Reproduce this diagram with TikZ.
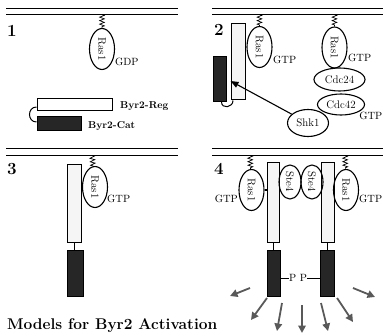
\documentclass[tikz,border=0pt]{standalone}
\usetikzlibrary{shapes.geometric,arrows.meta,decorations.pathmorphing}

\tikzset{
    prot/.style={ellipse, draw, line width=1.1pt, inner sep=0pt, font=\fontsize{11}{12}\selectfont},
    ras/.style={prot, rotate=-90, minimum width=41pt, minimum height=25pt},
    ste/.style={prot, rotate=-90, minimum width=34pt, minimum height=22pt},
    regbox/.style={draw, line width=1pt, fill=gray!8, inner sep=0pt},
    catbox/.style={draw, line width=1pt, fill=black!85, inner sep=0pt},
    lab/.style={font=\fontsize{10.5}{12}\selectfont, inner sep=0pt},
    memb/.style={line width=1.2pt},
    tether/.style={line width=0.7pt, decorate, decoration={zigzag, segment length=3.5pt, amplitude=2.3pt}},
    sig/.style={line width=1.8pt, black!65, -{Triangle[length=7.5pt,width=7.5pt]}},
    num/.style={font=\fontsize{17}{18}\selectfont\bfseries, anchor=north west, inner sep=0pt}
}

\begin{document}
\begin{tikzpicture}[x=1pt, y=-1pt]
    \useasboundingbox (0,0) rectangle (383,334);

    % Membranes
    \foreach \y in {8.5,14.5} {
        \draw[memb] (6,\y) -- (178,\y);
        \draw[memb] (212,\y) -- (383,\y);
    }
    \foreach \y in {148.5,155.5} {
        \draw[memb] (6,\y) -- (178,\y);
        \draw[memb] (212,\y) -- (383,\y);
    }

    % Panel 1
    \node[num] (n1) at (7,25) {1};
    \node[ras] (ras1) at (102,49) {Ras1};
    \coordinate (m1) at (102,14.5);
    \draw[tether] (m1) -- (ras1);
    \node[lab, anchor=west] (gdp1) at (115,62) {GDP};
    \node[regbox, fill=white, minimum width=75pt, minimum height=12pt] (rega) at (74.5,105) {};
    \node[catbox, minimum width=44pt, minimum height=14pt] (cata) at (59,124) {};
    \draw[line width=1pt] ([yshift=-2pt]rega.west) to[out=180, in=180, looseness=1.6] ([yshift=2pt]cata.west);
    \node[lab, font=\fontsize{10}{12}\selectfont\bfseries, anchor=west] (lreg) at (120,106) {Byr2-Reg};
    \node[lab, font=\fontsize{10}{12}\selectfont\bfseries, anchor=west] (lcat) at (88,126) {Byr2-Cat};

    % Panel 2
    \node[num] (n2) at (214,24) {2};
    \node[regbox, minimum width=14pt, minimum height=76pt] (regb) at (238,62) {};
    \node[catbox, minimum width=13pt, minimum height=45pt] (catb) at (219.5,79) {};
    \draw[line width=1pt] ([xshift=2pt]catb.south) to[out=-90, in=-90, looseness=1.6] ([xshift=-5pt]regb.south);
    \node[ras] (ras2a) at (259.5,47) {Ras1};
    \coordinate (m2a) at (259.5,14.5);
    \draw[tether] (m2a) -- (ras2a);
    \node[lab, anchor=west] (gtp2a) at (273,60) {GTP};
    \node[ras] (ras2b) at (334.5,47.5) {Ras1};
    \coordinate (m2b) at (334.5,14.5);
    \draw[tether] (m2b) -- (ras2b);
    \node[lab, anchor=west] (gtp2b) at (348,58) {GTP};
    \node[prot, minimum width=51pt, minimum height=23pt] (cdc24) at (339.5,79.5) {Cdc24};
    \node[prot, minimum width=47pt, minimum height=21pt] (cdc42) at (341,104.5) {Cdc42};
    \node[lab, anchor=east] (gtp2c) at (382.5,116) {GTP};
    \node[prot, minimum width=41pt, minimum height=27pt, fill=white] (shk1) at (308,123) {Shk1};
    \draw[line width=1.1pt, -{Triangle[length=8pt,width=6pt]}] (shk1) -- ([yshift=-19pt]regb.west);

    % Panel 3
    \node[num] (n3) at (7,163) {3};
    \node[regbox, minimum width=14pt, minimum height=77pt] (regc) at (74,203.5) {};
    \node[catbox, minimum width=16pt, minimum height=46pt] (catc) at (75,273) {};
    \draw[line width=1pt] (regc.south) -- (regc.south |- catc.north);
    \node[ras] (ras3) at (95,187) {Ras1};
    \coordinate (m3) at (92,155.5);
    \draw[tether] (m3) -- (ras3);
    \node[lab, anchor=west] (gtp3) at (107,199) {GTP};

    % Panel 4
    \node[num] (n4) at (214,163) {4};
    \node[regbox, minimum width=12pt, minimum height=79pt] (regl) at (273,202.5) {};
    \node[catbox, minimum width=13pt, minimum height=46pt] (catl) at (273.5,273) {};
    \node[regbox, minimum width=13pt, minimum height=79pt] (regr) at (327.5,202.5) {};
    \node[catbox, minimum width=14pt, minimum height=46pt] (catr) at (327.5,273) {};
    \draw[line width=1pt] (regl.south) -- (regl.south |- catl.north);
    \draw[line width=1pt] (regr.south) -- (regr.south |- catr.north);
    \node[ste] (ste4l) at (290,182) {Ste4};
    \node[ste] (ste4r) at (312,182) {Ste4};
    \node[ras] (rasl) at (251.5,190) {Ras1};
    \node[ras] (rasr) at (346,190) {Ras1};
    \draw[line width=2.5pt] (rasl) -- (rasl -| regl.west);
    \draw[line width=2.5pt] (rasr) -- (rasr -| regr.east);
    \coordinate (m4l) at (250,155.5);
    \coordinate (m4r) at (345,155.5);
    \draw[tether] (m4l) -- (rasl);
    \draw[tether] (m4r) -- (rasr);
    \node[lab, anchor=east] (gtp4l) at (238,199) {GTP};
    \node[lab, anchor=west] (gtp4r) at (359,199) {GTP};
    \node[lab] (pp) at (298,278) {P P};
    \draw[line width=0.8pt] (pp.west) -- (pp.west -| catl.east);
    \draw[line width=0.8pt] (pp.east) -- (pp.east -| catr.west);

    % Signal out
    \foreach \xa/\ya/\xb/\yb in {250/288/230/296, 267/298/251/320, 282/303/277/331,
        302/305/302/333, 321/303/328/331, 337/298/353/322, 353/288/375/297} {
        \draw[sig] (\xa,\ya) -- (\xb,\yb);
    }

    % Title
    \node[font=\fontsize{15.5}{17}\selectfont\bfseries, anchor=base west, inner sep=0pt] (title) at (7,329) {Models for Byr2 Activation};
\end{tikzpicture}
\end{document}
